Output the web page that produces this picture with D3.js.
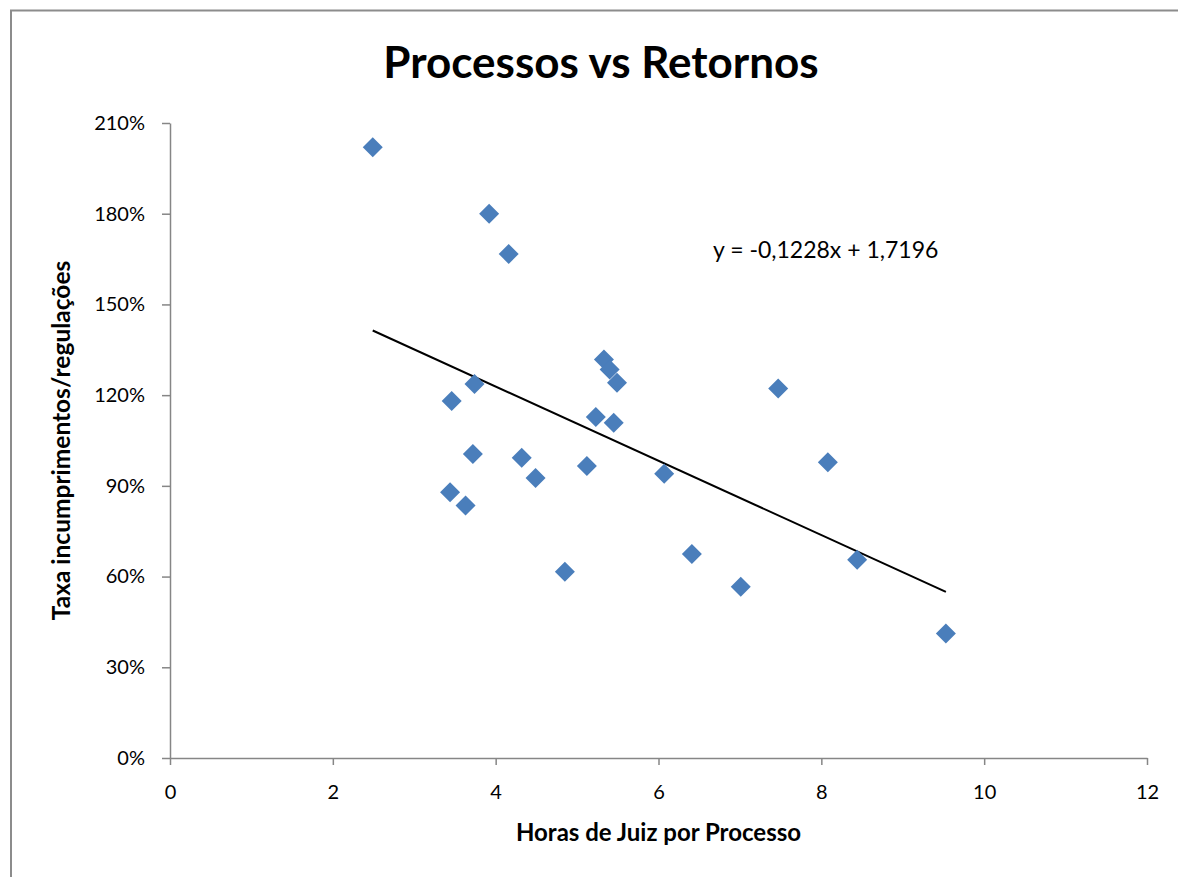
<!DOCTYPE html>
<html>
<head>
<meta charset="utf-8">
<script src="https://cdn.jsdelivr.net/npm/d3@7"></script>
<style>
  body { margin: 0; background: #fff; }
  .axis path, .axis line { stroke: #868686; }
  .axis text { font-family: Lato, "Open Sans", sans-serif; font-size: 20px; fill: #000; }
</style>
</head>
<body>
<div id="chart"></div>
<script>
// horas de juiz por processo
var horas = [2.49, 3.92, 4.16, 5.33, 5.40, 5.49, 3.74, 3.46, 5.23, 5.45, 3.72, 4.32,
             5.12, 4.49, 3.44, 3.63, 6.07, 4.85, 6.41, 7.01, 7.47, 8.08, 8.44, 9.53];
// taxa incumprimentos/regulações
var taxas = [2.02, 1.80, 1.667, 1.318, 1.285, 1.241, 1.237, 1.181, 1.128, 1.109, 1.005, 0.993,
             0.966, 0.926, 0.879, 0.835, 0.94, 0.616, 0.675, 0.566, 1.222, 0.978, 0.656, 0.412];
var yTicks = [0, 0.3, 0.6, 0.9, 1.2, 1.5, 1.8, 2.1];
var xTicks = [0, 2, 4, 6, 8, 10, 12];
// linha de tendência mostrada no gráfico
var declive = -0.1228;
var ordenada = 1.7196;

var width = 1178;
var height = 877;
var padding = {top: 123, right: 31, bottom: 119, left: 170};

var svg = d3.select('#chart')
    .append('svg')
    .attr('width', width)
    .attr('height', height);

// moldura
svg.append('rect')
    .attr('x', 11)
    .attr('y', 10.5)
    .attr('width', 1200)
    .attr('height', 900)
    .attr('fill', 'none')
    .attr('stroke', '#8c8c8c')
    .attr('stroke-width', 2);

var xScale = d3.scaleLinear()
    .domain([0, 12])
    .range([padding.left, width - padding.right]);
var yScale = d3.scaleLinear()
    .domain([0, 2.1])
    .range([height - padding.bottom, padding.top]);

var xAxis = d3.axisBottom(xScale)
    .tickValues(xTicks)
    .tickSize(7)
    .tickSizeOuter(0)
    .tickPadding(20);
var yAxis = d3.axisLeft(yScale)
    .tickValues(yTicks)
    .tickFormat(d3.format('.0%'))
    .tickSize(8)
    .tickSizeOuter(0)
    .tickPadding(17);

svg.append('g')
    .attr('class', 'axis')
    .attr('transform', 'translate(0,' + (height - padding.bottom) + ')')
    .call(xAxis);
svg.append('g')
    .attr('class', 'axis')
    .attr('transform', 'translate(' + padding.left + ',0)')
    .call(yAxis);

svg.selectAll('.axis path, .axis line').attr('stroke-width', 1.5);

// linha de tendência
var xMin = d3.min(horas), xMax = d3.max(horas);
svg.append('line')
    .attr('x1', xScale(xMin))
    .attr('y1', yScale(declive * xMin + ordenada))
    .attr('x2', xScale(xMax))
    .attr('y2', yScale(declive * xMax + ordenada))
    .attr('stroke', '#000')
    .attr('stroke-width', 2);

// pontos
var dataset = horas.map(function (h, i) { return [h, taxas[i]]; });
svg.append('g')
    .selectAll('path')
    .data(dataset)
    .enter()
    .append('path')
    .attr('d', 'M0,-10L10,0L0,10L-10,0Z')
    .attr('transform', function (d) {
        return 'translate(' + xScale(d[0]) + ',' + yScale(d[1]) + ')';
    })
    .attr('fill', '#4a7ebb');

// textos
svg.append('text')
    .attr('x', 601)
    .attr('y', 78)
    .attr('text-anchor', 'middle')
    .style('font-family', 'Lato, "Open Sans", sans-serif')
    .style('font-weight', 'bold')
    .style('font-size', '44px')
    .text('Processos vs Retornos');

svg.append('text')
    .attr('x', 713)
    .attr('y', 258)
    .style('font-family', 'Lato, "Open Sans", sans-serif')
    .style('font-size', '23px')
    .text('y = -0,1228x + 1,7196');

svg.append('text')
    .attr('x', (padding.left + width - padding.right) / 2)
    .attr('y', 841)
    .attr('text-anchor', 'middle')
    .style('font-family', 'Lato, "Open Sans", sans-serif')
    .style('font-weight', 'bold')
    .style('font-size', '24px')
    .text('Horas de Juiz por Processo');

svg.append('text')
    .attr('transform', 'translate(70,' + ((padding.top + height - padding.bottom) / 2) + ') rotate(-90)')
    .attr('text-anchor', 'middle')
    .style('font-family', 'Lato, "Open Sans", sans-serif')
    .style('font-weight', 'bold')
    .style('font-size', '24.5px')
    .text('Taxa incumprimentos/regulações');
</script>
</body>
</html>
